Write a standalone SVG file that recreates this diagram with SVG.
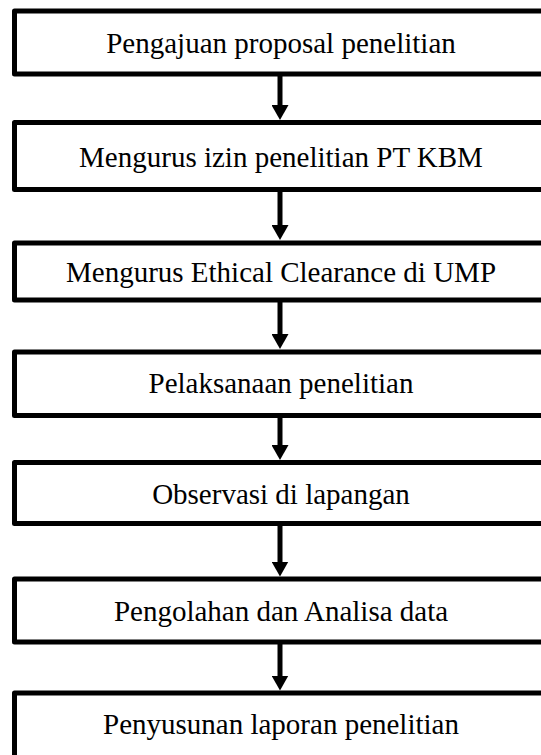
<svg xmlns="http://www.w3.org/2000/svg" width="541" height="755" viewBox="0 0 541 755">
<style>
.box{fill:#fff;stroke:#000;stroke-width:5;stroke-linejoin:round}
.lbl{font-family:"Liberation Serif","Times New Roman",serif;font-size:29px;fill:#000;text-anchor:middle}
.edge{stroke:#000;stroke-width:5;fill:none}
</style>
<defs>
<marker id="ah" viewBox="0 0 15 17" markerWidth="15" markerHeight="17" refX="1" refY="8.5" orient="auto" markerUnits="userSpaceOnUse">
<path d="M0,0 L15,8.5 L0,17 z" fill="#000"/>
</marker>
</defs>
<rect width="541" height="755" fill="#fff"/>
<g id="n1"><rect class="box" x="14.5" y="11" width="533" height="63"/><text class="lbl" x="281" y="53">Pengajuan proposal penelitian</text></g>
<g id="n2"><rect class="box" x="14.5" y="122.5" width="533" height="67"/><text class="lbl" x="281" y="166.5">Mengurus izin penelitian PT KBM</text></g>
<g id="n3"><rect class="box" x="14.5" y="243" width="533" height="57"/><text class="lbl" x="281" y="282">Mengurus Ethical Clearance di UMP</text></g>
<g id="n4"><rect class="box" x="14.5" y="352" width="533" height="63.5"/><text class="lbl" x="281" y="393">Pelaksanaan penelitian</text></g>
<g id="n5"><rect class="box" x="14.5" y="462.5" width="533" height="61"/><text class="lbl" x="281" y="503.5">Observasi di lapangan</text></g>
<g id="n6"><rect class="box" x="14.5" y="579" width="533" height="63"/><text class="lbl" x="281" y="621">Pengolahan dan Analisa data</text></g>
<g id="n7"><rect class="box" x="14.5" y="693" width="533" height="80"/><text class="lbl" x="281" y="734">Penyusunan laporan penelitian</text></g>
<g id="connectors">
<line class="edge" x1="280" y1="76" x2="280" y2="106" marker-end="url(#ah)"/>
<line class="edge" x1="280" y1="192" x2="280" y2="226" marker-end="url(#ah)"/>
<line class="edge" x1="280" y1="302" x2="280" y2="335" marker-end="url(#ah)"/>
<line class="edge" x1="280" y1="418" x2="280" y2="446" marker-end="url(#ah)"/>
<line class="edge" x1="280" y1="526" x2="280" y2="562.5" marker-end="url(#ah)"/>
<line class="edge" x1="280" y1="644" x2="280" y2="676.5" marker-end="url(#ah)"/>
</g>
</svg>
